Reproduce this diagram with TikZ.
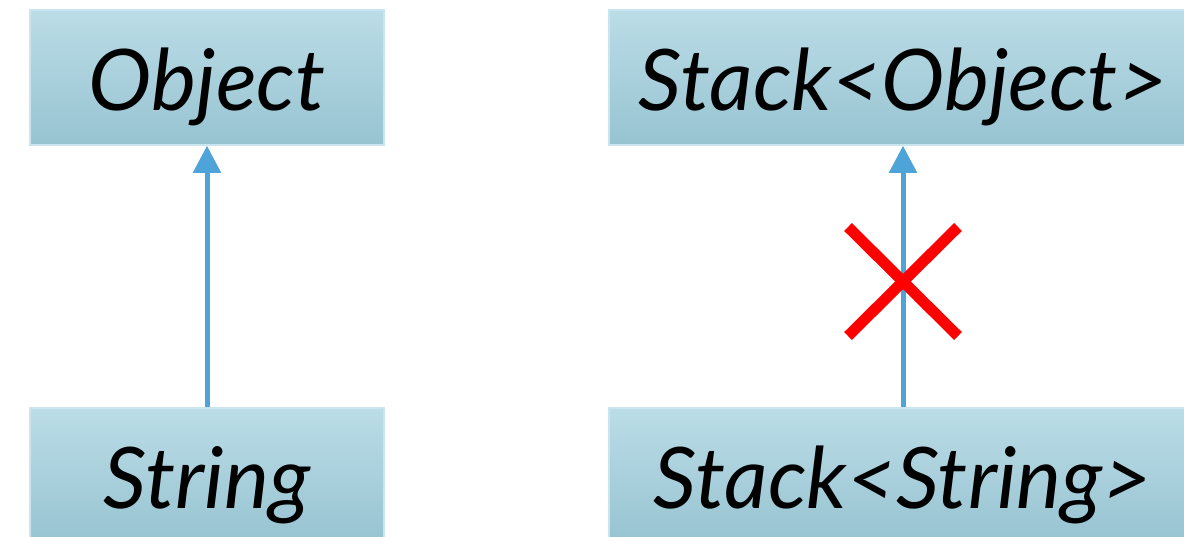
\documentclass[tikz,border=0pt]{standalone}
\usepackage{fontspec}
\setmainfont{Lato}
\usetikzlibrary{arrows.meta}
\definecolor{boxtop}{HTML}{BBDDE7}
\definecolor{boxbot}{HTML}{97C3D1}
\definecolor{boxline}{HTML}{C9E5EE}
\definecolor{arrowblue}{HTML}{4EA3D8}
\definecolor{crossred}{HTML}{FF0000}
\tikzset{
  classbox/.style={rectangle, draw=boxline, line width=1.5pt, top color=boxtop, bottom color=boxbot,
    inner sep=0pt, text height=85pt, text depth=20pt, minimum height=135pt,
    font=\fontsize{85}{100}\selectfont\itshape, text=black},
  inherit/.style={draw=arrowblue, line width=5pt, -{Triangle[length=27pt,width=27pt]}},
  nope/.style={draw=crossred, line width=11pt}
}
\begin{document}
\begin{tikzpicture}[x=1pt,y=-1pt]
\useasboundingbox (0,0) rectangle (1184,536);
\clip (0,0) rectangle (1184,536);
\fill[white] (0,0) rectangle (1184,536);
\node[classbox, minimum width=354pt] (obj) at (207,77.5) {Object};
\node[classbox, minimum width=354pt] (str) at (207,475.5) {String};
\node[classbox, minimum width=588pt] (sobj) at (903,77.5) {Stack<Object>};
\node[classbox, minimum width=588pt] (sstr) at (903,475.5) {Stack<String>};
\draw[inherit] (str.north) -- (obj.south);
\draw[inherit] (sstr.north) -- (sobj.south);
\coordinate (xa) at (848,227);
\coordinate (xb) at (958,336);
\coordinate (xc) at (848,336);
\coordinate (xd) at (958,227);
\draw[nope] (xa) -- (xb);
\draw[nope] (xc) -- (xd);
\end{tikzpicture}
\end{document}
